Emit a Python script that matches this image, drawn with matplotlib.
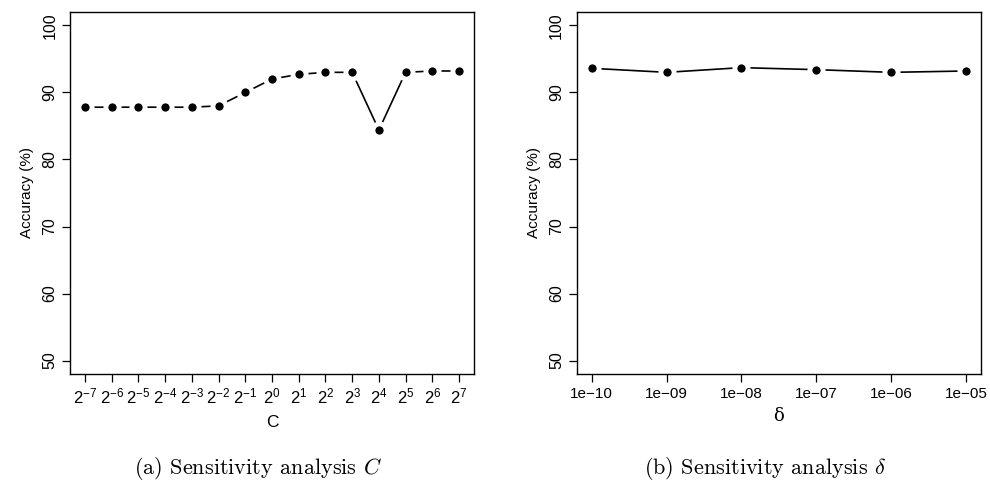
import matplotlib
matplotlib.use("Agg")
import matplotlib.pyplot as plt

# 灵敏度分析的数据
c_labels = [r"$2^{%d}$" % k for k in range(-7, 8)]
c_acc = [87.8, 87.8, 87.8, 87.8, 87.8, 88.0, 90.0, 92.0, 92.7, 93.0, 93.0, 84.4, 93.0, 93.2, 93.2]

delta_vals = [1e-10, 1e-09, 1e-08, 1e-07, 1e-06, 1e-05]
delta_labels = ["1e\u221210", "1e\u221209", "1e\u221208", "1e\u221207", "1e\u221206", "1e\u221205"]
delta_acc = [93.6, 93.0, 93.7, 93.4, 93.0, 93.2]

y_ticks = [50, 60, 70, 80, 90, 100]

plt.rcParams['font.family'] = ['Liberation Sans', 'DejaVu Sans']
plt.rcParams['mathtext.fontset'] = 'custom'
plt.rcParams['mathtext.rm'] = 'Liberation Sans'
plt.rcParams['mathtext.it'] = 'Liberation Sans:italic'

FS = 11.5


def style_axes(ax):
    for s in ax.spines.values():
        s.set_linewidth(1.0)
        s.set_color('black')
    ax.set_ylim(48, 102)
    ax.set_yticks(y_ticks)
    ax.set_yticklabels([str(v) for v in y_ticks], rotation=90, va='center', fontsize=FS)
    ax.tick_params(direction='out', length=6, width=0.9, pad=3)
    ax.set_ylabel("Accuracy (%)", fontsize=11, labelpad=6)


def draw_line(ax, x, y):
    ax.plot(x, y, color='black', linewidth=1.2, marker='o', markersize=9.5,
            markerfacecolor='black', markeredgecolor='white', markeredgewidth=3.5)


fig = plt.figure(figsize=(9.9, 4.84), dpi=100)

ax1 = fig.add_axes([70 / 990, 1 - 374 / 484, 404 / 990, 362 / 484])
xs = list(range(len(c_acc)))
draw_line(ax1, xs, c_acc)
ax1.set_xlim(-0.56, len(c_acc) - 1 + 0.56)
ax1.set_xticks(xs)
ax1.set_xticklabels(c_labels, fontsize=FS + 0.5)
ax1.set_xlabel("C", fontsize=12.5, labelpad=6)
style_axes(ax1)

ax2 = fig.add_axes([576.7 / 990, 1 - 374 / 484, 404.3 / 990, 362 / 484])
draw_line(ax2, delta_vals, delta_acc)
ax2.set_xscale('log')
ax2.set_xlim(10 ** -10.2, 10 ** -4.8)
ax2.set_xticks(delta_vals)
ax2.set_xticklabels(delta_labels, fontsize=FS - 0.5)
ax2.minorticks_off()
ax2.set_xlabel("δ", fontsize=13, fontfamily='DejaVu Serif', labelpad=5)
style_axes(ax2)

fig.text(258 / 990, 1 - 468 / 484, r"(a) Sensitivity analysis $C$", ha='center', va='center',
         fontsize=16, fontfamily='cmr10', math_fontfamily='cm')
fig.text(765 / 990, 1 - 468 / 484, r"(b) Sensitivity analysis $\delta$", ha='center', va='center',
         fontsize=16, fontfamily='cmr10', math_fontfamily='cm')

fig.savefig("out.png", dpi=100)
